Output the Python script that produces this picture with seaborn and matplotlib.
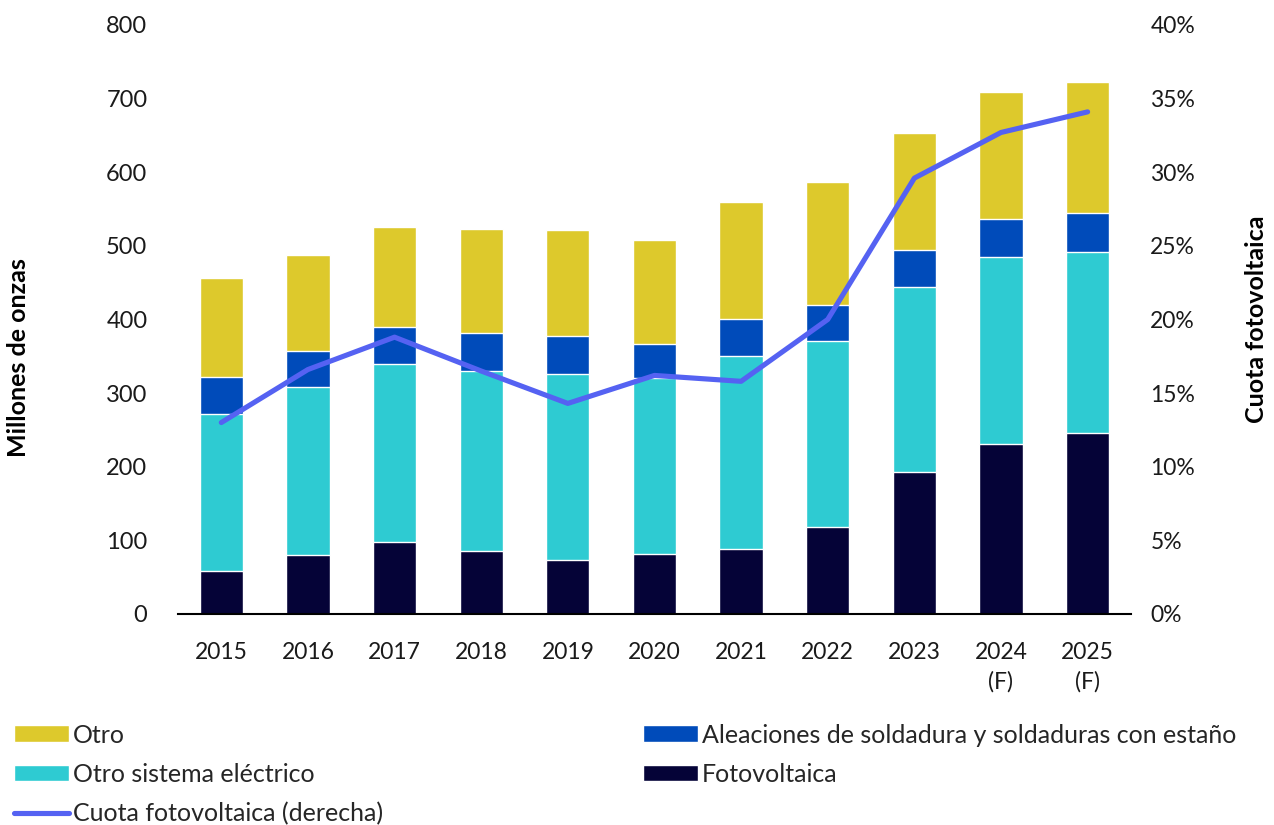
import matplotlib
matplotlib.use("Agg")
import matplotlib.pyplot as plt
import seaborn as sns
import numpy as np
import pandas as pd
from matplotlib.ticker import PercentFormatter

# datos (millones de onzas)
years = ["2015", "2016", "2017", "2018", "2019", "2020", "2021", "2022", "2023", "2024\n(F)", "2025\n(F)"]
fotovoltaica = [58, 80, 98, 86, 73, 82, 88, 118, 193, 231, 246]
otro_electrico = [213, 228, 241, 244, 253, 239, 263, 253, 251, 254, 246]
aleaciones = [51, 49, 51, 52, 52, 46, 50, 48, 50, 51, 53]
otro = [134, 131, 136, 141, 144, 141, 159, 168, 159, 173, 177]
cuota = [13.0, 16.6, 18.8, 16.5, 14.3, 16.2, 15.8, 20.0, 29.6, 32.7, 34.1]

c_otro = "#DDC92C"
c_alea = "#004BBA"
c_elec = "#2ECBD2"
c_pv = "#050337"
c_line = "#5562F2"

df = pd.DataFrame({"year": years, "pv": fotovoltaica, "elec": otro_electrico,
                   "alea": aleaciones, "otro": otro})
df["c_pv"] = df["pv"]
df["c_elec"] = df["c_pv"] + df["elec"]
df["c_alea"] = df["c_elec"] + df["alea"]
df["c_otro"] = df["c_alea"] + df["otro"]

sns.set_style("white")
plt.rcParams["font.family"] = ["Lato", "DejaVu Sans"]

fig = plt.figure(figsize=(12.74, 8.25), dpi=100)
ax = fig.add_axes([0.1397, 0.2558, 0.748, 0.7139])

# barras apiladas: se dibuja del total hacia abajo
sns.barplot(data=df, x="year", y="c_otro", color=c_otro, width=0.5, saturation=1, ax=ax, label="Otro")
sns.barplot(data=df, x="year", y="c_alea", color=c_alea, width=0.5, saturation=1, ax=ax,
            label="Aleaciones de soldadura y soldaduras con estaño")
sns.barplot(data=df, x="year", y="c_elec", color=c_elec, width=0.5, saturation=1, ax=ax,
            label="Otro sistema eléctrico")
sns.barplot(data=df, x="year", y="c_pv", color=c_pv, width=0.5, saturation=1, ax=ax, label="Fotovoltaica")
if ax.get_legend() is not None:
    ax.get_legend().remove()

ax.set_ylim(0, 800)
ax.set_xlim(-0.5, 10.5)
ax.set_yticks(range(0, 801, 100))
ax.set_xlabel("")
ax.set_ylabel("Millones de onzas", fontsize=18, fontweight="bold", color="black")
ax.yaxis.set_label_coords(-0.155, 0.436)
ax.tick_params(axis="both", length=0, labelsize=16.5, colors="#1a1a1a")
ax.tick_params(axis="x", pad=20)
ax.tick_params(axis="y", pad=22, labelsize=17)
for t in ax.get_xticklabels():
    t.set_linespacing(1.45)
for s in ["top", "left", "right"]:
    ax.spines[s].set_visible(False)
ax.spines["bottom"].set_color("black")
ax.spines["bottom"].set_linewidth(1.5)

ax2 = ax.twinx()
sns.lineplot(x=np.arange(len(years)), y=cuota, ax=ax2, color=c_line, linewidth=3.7,
             label="Cuota fotovoltaica (derecha)", legend=False)
ax2.set_ylim(0, 40)
ax2.set_xlim(-0.5, 10.5)
ax2.set_yticks(range(0, 41, 5))
ax2.yaxis.set_major_formatter(PercentFormatter(decimals=0))
ax2.set_ylabel("Cuota fotovoltaica", fontsize=18, fontweight="bold", color="black")
ax2.yaxis.set_label_coords(1.12, 0.50)
ax2.tick_params(axis="y", length=0, labelsize=16.5, colors="#1a1a1a", pad=14)
for s in ["top", "left", "right", "bottom"]:
    ax2.spines[s].set_visible(False)
ax2.grid(False)
ax.grid(False)

h1, l1 = ax.get_legend_handles_labels()
h2, l2 = ax2.get_legend_handles_labels()
hd = dict(zip(l1 + l2, h1 + h2))
order = ["Otro", "Otro sistema eléctrico", "Cuota fotovoltaica (derecha)",
         "Aleaciones de soldadura y soldaduras con estaño", "Fotovoltaica"]
fig.legend([hd[k] for k in order], order, loc="upper left", bbox_to_anchor=(0.011, 0.123),
           ncol=2, frameon=False, fontsize=18, handlelength=2.2, handleheight=0.65,
           handletextpad=0.15, columnspacing=10.4, labelspacing=0.65, borderpad=0,
           borderaxespad=0)

fig.savefig("out.png", dpi=100)
